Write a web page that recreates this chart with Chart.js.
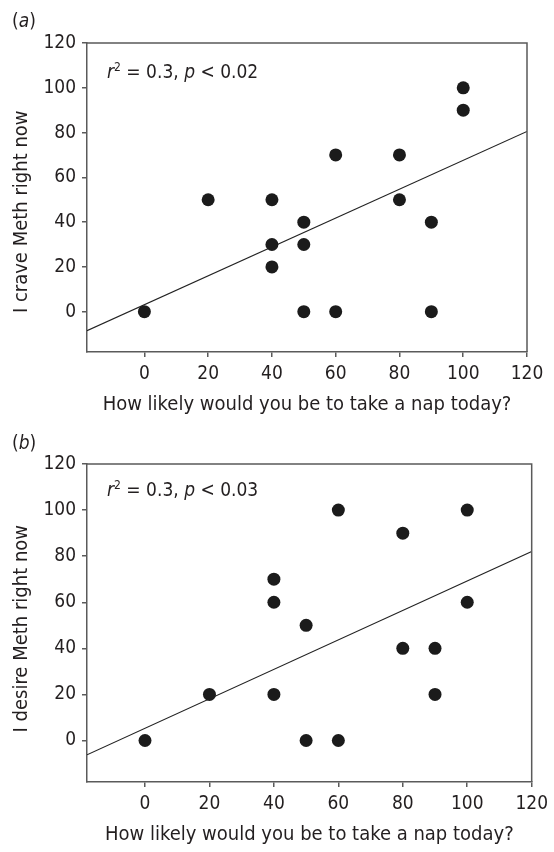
<!DOCTYPE html>
<html>
<head>
<meta charset="utf-8">
<script src="https://cdn.jsdelivr.net/npm/chart.js@4.4.0/dist/chart.umd.min.js"></script>
<style>
  body { margin: 0; background: #fff; }
  #wrap { position: relative; width: 554px; height: 852px; overflow: hidden;
          font-family: "DejaVu Sans Condensed", "Liberation Sans", Arial, sans-serif; color: #231f20; }
  #wrap canvas { position: absolute; left: 0; }
  .lbl { position: absolute; font-size: 19px; line-height: 1; white-space: nowrap; }
  .lbl sup { font-size: 12px; position: relative; top: -7px; vertical-align: baseline; }
</style>
</head>
<body>
<div id="wrap">
  <canvas id="chartA" width="554" height="430" style="top:0"></canvas>
  <canvas id="chartB" width="554" height="422" style="top:430px"></canvas>
  <div class="lbl" style="left:12px; top:11px">(<i>a</i>)</div>
  <div class="lbl" style="left:107px; top:62px"><i>r</i><sup>2</sup> = 0.3, <i>p</i> &lt; 0.02</div>
  <div class="lbl" style="left:12px; top:433px">(<i>b</i>)</div>
  <div class="lbl" style="left:107px; top:480px"><i>r</i><sup>2</sup> = 0.3, <i>p</i> &lt; 0.03</div>
</div>
<script>
// ====== Data ======
const X_TICKS = [0, 20, 40, 60, 80, 100, 120];
const Y_TICKS = [0, 20, 40, 60, 80, 100, 120];
const X_TITLE = "How likely would you be to take a nap today?";

// (a) craving
const NAP_A = [0, 20, 40, 40, 40, 50, 50, 50, 60, 60, 80, 80, 90, 90, 100, 100];
const CRAVE_A = [0, 50, 50, 30, 20, 40, 30, 0, 70, 0, 70, 50, 40, 0, 100, 90];
const FIT_A_X = [-18, 120];
const FIT_A_Y = [-8.5, 80.5];

// (b) desire
const NAP_B = [0, 20, 40, 40, 40, 50, 50, 60, 60, 80, 80, 90, 90, 100, 100];
const DESIRE_B = [0, 20, 70, 60, 20, 50, 0, 100, 0, 90, 40, 40, 20, 100, 60];
const FIT_B_X = [-18, 120];
const FIT_B_Y = [-6.2, 82];

// ====== Style ======
const FAMILY = "'DejaVu Sans Condensed', 'Liberation Sans', Arial, sans-serif";
const TICK_FONT = { family: FAMILY, size: 19 };
const TITLE_FONT = { family: FAMILY, size: 20 };
const TEXT = '#231f20';
const AXIS = '#5a5a5a';
const DOT = '#1b1b1b';
// the y titles sit a little below the middle of the plot in the original
const nudge = n => '\u00a0'.repeat(n);

const framePlugin = {
  id: 'frame',
  afterDatasetsDraw(chart) {
    const { ctx, chartArea: a } = chart;
    ctx.save();
    ctx.strokeStyle = AXIS;
    ctx.lineWidth = 1.5;
    ctx.beginPath();
    ctx.moveTo(a.left, a.top);
    ctx.lineTo(a.right, a.top);
    ctx.lineTo(a.right, a.bottom);
    ctx.stroke();
    ctx.restore();
  }
};

const toPts = (xs, ys) => xs.map((x, i) => ({ x: x, y: ys[i] }));

function makeChart(id, xs, ys, fitX, fitY, yTitle, box) {
  return new Chart(document.getElementById(id), {
    type: 'scatter',
    data: {
      datasets: [
        { data: toPts(xs, ys), pointRadius: 6.5, pointHoverRadius: 6.5,
          backgroundColor: DOT, borderWidth: 0 },
        { type: 'line', data: toPts(fitX, fitY), borderColor: '#222', borderWidth: 1.2,
          pointRadius: 0, fill: false }
      ]
    },
    options: {
      responsive: false,
      animation: false,
      layout: { padding: { top: box.top, right: box.right, left: 0, bottom: 0 } },
      plugins: { legend: { display: false }, tooltip: { enabled: false } },
      scales: {
        x: {
          type: 'linear', min: -18, max: 120,
          afterBuildTicks: s => { s.ticks = X_TICKS.map(v => ({ value: v })); },
          afterFit: s => { s.height = box.xHeight; },
          ticks: { font: TICK_FONT, color: TEXT, padding: 6, maxRotation: 0 },
          grid: { drawOnChartArea: false, tickLength: 5, color: AXIS, lineWidth: 1.5 },
          border: { display: true, color: AXIS, width: 1.5 },
          title: { display: true, text: X_TITLE, font: TITLE_FONT, color: TEXT,
                   padding: { top: 0, bottom: box.xTitlePad } }
        },
        y: {
          type: 'linear', min: -18, max: 120,
          afterBuildTicks: s => { s.ticks = Y_TICKS.map(v => ({ value: v })); },
          afterFit: s => { s.width = 87; },
          ticks: { font: TICK_FONT, color: TEXT, padding: 6 },
          grid: { drawOnChartArea: false, tickLength: 5, color: AXIS, lineWidth: 1.5 },
          border: { display: true, color: AXIS, width: 1.5 },
          title: { display: true, text: yTitle + nudge(box.yNudge), font: TITLE_FONT, color: TEXT,
                   padding: { top: 10, bottom: 0 } }
        }
      }
    },
    plugins: [framePlugin]
  });
}

makeChart('chartA', NAP_A, CRAVE_A, FIT_A_X, FIT_A_Y, 'I crave Meth right now',
  { top: 43, right: 27, xHeight: 78, xTitlePad: 13, yNudge: 5 });
makeChart('chartB', NAP_B, DESIRE_B, FIT_B_X, FIT_B_Y, 'I desire Meth right now',
  { top: 34, right: 16, xHeight: 70, xTitlePad: 5, yNudge: 2 });
</script>
</body>
</html>
